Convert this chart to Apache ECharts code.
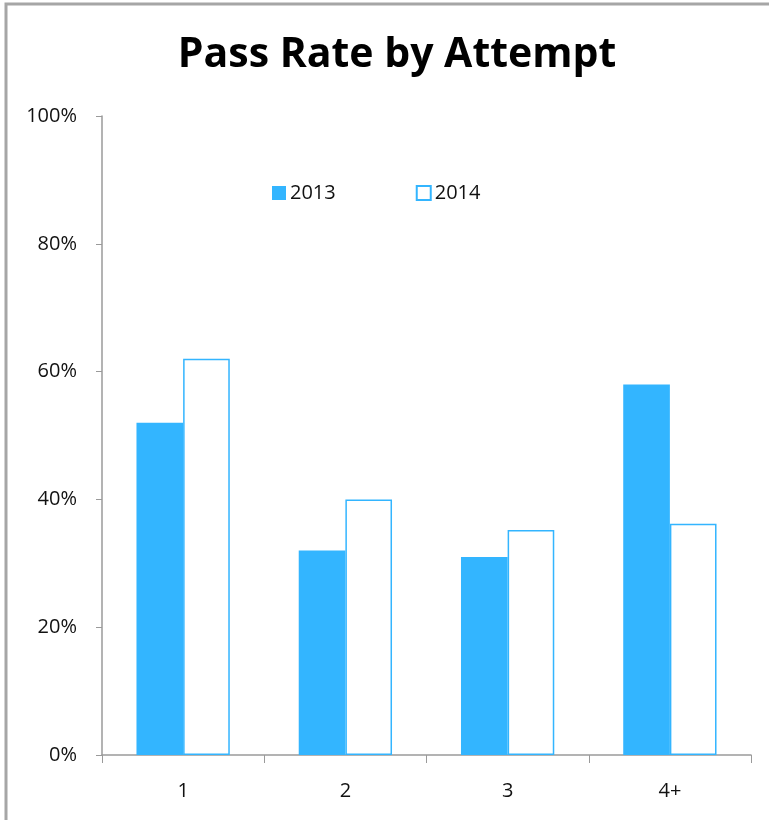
<!DOCTYPE html>
<html>
<head>
<meta charset="utf-8">
<script src="https://cdn.jsdelivr.net/npm/echarts@6/dist/echarts.min.js"></script>
<style>
  html, body { margin: 0; padding: 0; background: #fff; }
  #main { width: 769px; height: 820px; }
</style>
</head>
<body>
<div id="main"></div>
<script>
// data
const attempts = ['1', '2', '3', '4+'];
const rate2013 = [0.52, 0.32, 0.31, 0.58];
const rate2014 = [0.62, 0.40, 0.352, 0.362];
const barBlue = '#33b5ff';

const chart = echarts.init(document.getElementById('main'), null, { renderer: 'canvas' });

chart.setOption({
  backgroundColor: '#ffffff',
  animation: false,
  textStyle: { fontFamily: 'Open Sans' },
  title: {
    text: 'Pass Rate by Attempt',
    left: 392,
    textAlign: 'center',
    top: 30,
    textStyle: { fontFamily: 'Open Sans', fontWeight: 'bold', fontSize: 41, color: '#000' }
  },
  // old frame round the chart
  graphic: [{
    type: 'rect',
    shape: { x: 6, y: 4, width: 900, height: 900 },
    style: { fill: 'none', stroke: '#a6a6a6', lineWidth: 3 },
    silent: true
  }],
  legend: {
    left: 267,
    top: 178,
    itemWidth: 14,
    itemHeight: 14,
    itemGap: 80,
    icon: 'rect',
    textStyle: { fontSize: 20, color: '#111', padding: [0, 0, 0, -1] },
    data: ['2013', '2014']
  },
  grid: { left: 102, right: 18, top: 116, bottom: 65 },
  xAxis: {
    type: 'category',
    data: attempts,
    axisLine: { lineStyle: { color: '#9a9a9a', width: 1.5 } },
    axisTick: { show: true, length: 8, lineStyle: { color: '#9a9a9a' } },
    axisLabel: { fontSize: 20, color: '#111', margin: 26 }
  },
  yAxis: {
    type: 'value',
    min: 0,
    max: 1,
    interval: 0.2,
    splitLine: { show: false },
    axisLine: { show: true, lineStyle: { color: '#9a9a9a', width: 1.5 } },
    axisTick: { show: true, length: 6, lineStyle: { color: '#9a9a9a' } },
    axisLabel: {
      fontSize: 20,
      color: '#111',
      margin: 25,
      formatter: v => Math.round(v * 100) + '%'
    }
  },
  series: [{
    name: '2013',
    type: 'bar',
    data: rate2013,
    barGap: '0%',
    barCategoryGap: '42.5%',
    itemStyle: { color: barBlue }
  }, {
    name: '2014',
    type: 'bar',
    data: rate2014,
    barGap: '0%',
    barCategoryGap: '42.5%',
    itemStyle: { color: '#ffffff', borderColor: barBlue, borderWidth: 1.5 }
  }]
});
</script>
</body>
</html>
